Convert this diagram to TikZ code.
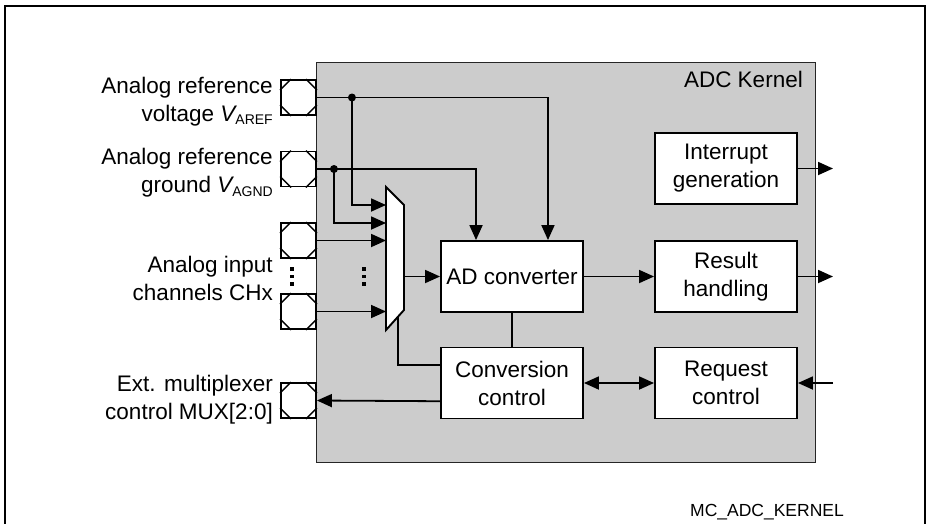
\documentclass[tikz,border=0pt]{standalone}
\usepackage{fontspec}
\setmainfont{Liberation Sans}
\usetikzlibrary{arrows.meta,calc}
\begin{document}
\begin{tikzpicture}[x=1pt,y=-1pt,
  >={Triangle[length=15pt,width=13pt]},
  conn/.style={line width=1.8pt},
  blk/.style={draw, fill=white, line width=1.9pt, minimum width=142pt, minimum height=71pt,
    align=center, inner sep=0pt, font=\fontsize{22.5}{28}\selectfont},
  pad/.style={draw, fill=white, line width=1.9pt, minimum size=35pt, inner sep=0pt},
  lbl/.style={anchor=east, align=right, inner sep=0pt, font=\fontsize{22.5}{28}\selectfont},
  jdot/.style={fill=black}]
\useasboundingbox (0,0) rectangle (927,523);
\fill[white] (0,0) rectangle (927,523);
\draw[line width=2.6pt] (5,530) -- (5,6) -- (925,6) -- (925,530);

% kernel
\node[draw=black!85, line width=1.1pt, fill=black!20, minimum width=499pt, minimum height=400pt,
  anchor=north west, inner sep=0pt] (kern) at (316,62) {};
\node[anchor=base east, inner sep=0pt, font=\fontsize{22.5}{28}\selectfont] (kl) at (803,87) {ADC Kernel};

% pads
\node[pad] (p1) at (298.5,97.5) {};
\node[pad] (p2) at (298.5,169) {};
\node[pad] (p3) at (298.5,240.5) {};
\node[pad] (p4) at (298.5,311.5) {};
\node[pad] (p5) at (298.5,400.5) {};
\foreach \p in {p1,p2,p3,p4,p5} {
  \draw[line width=1.3pt]
    ($(\p.north west)+(0,11)$) -- ($(\p.north west)+(11,0)$)
    ($(\p.north east)+(-11,0)$) -- ($(\p.north east)+(0,11)$)
    ($(\p.south west)+(0,-11)$) -- ($(\p.south west)+(11,0)$)
    ($(\p.south east)+(-11,0)$) -- ($(\p.south east)+(0,-11)$);
}

% labels
\newcommand{\subsc}[1]{\raisebox{-3.5pt}{\fontsize{14}{14}\selectfont #1}}
\node[lbl] (l1) at (273,101.5) {Analog reference\\voltage {\itshape V}\subsc{AREF}};
\node[lbl] (l2) at (273,173) {Analog reference\\ground {\itshape V}\subsc{AGND}};
\node[lbl] (l3) at (273,278) {Analog input\\channels CHx};
\node[lbl] (l4) at (273,400) {Ext. multiplexer\\control MUX[2:0]};

% dots
\foreach \yy in {269,276.5,284} {
  \fill (290.3,\yy-1.7) rectangle ++(3.4,3.4);
  \fill (362.3,\yy-1.7) rectangle ++(3.4,3.4);
}

% blocks
\node[blk] (ad) at (512,276.5) {AD converter};
\node[blk] (cc) at (512,383) {Conversion\\control};
\node[blk] (ig) at (726,168.5) {Interrupt\\generation};
\node[blk] (rs) at (726,276.5) {Result\\handling};
\node[blk] (rq) at (726,383) {Request\\control};

% multiplexer
\draw[line width=1.9pt, fill=white] (386,187) -- (404,205) -- (404,310) -- (386,330) -- cycle;
\coordinate (m1) at (386,205);
\coordinate (m2) at (386,223);
\coordinate (mo) at (404,276.5);
\coordinate (mb) at (398,317);

% connectors
\path (p1.east) ++(35,0) coordinate (j1);
\path (p2.east) ++(17,0) coordinate (j2);
\draw[conn,->] (p1.east) -| ($(ad.north west)!0.75!(ad.north east)$);
\draw[conn,->] (p2.east) -| ($(ad.north west)!0.25!(ad.north east)$);
\draw[conn,->] (j1) |- (m1);
\draw[conn,->] (j2) |- (m2);
\fill[jdot] (j1) circle (4pt);
\fill[jdot] (j2) circle (4pt);
\draw[conn,->] (p3.east) -- (p3.east -| m1);
\draw[conn,->] (p4.east) -- (p4.east -| m1);
\draw[conn,->] (mo) -- (ad.west);
\draw[conn] (mb) |- ($(cc.north west)!0.25!(cc.south west)$);
\draw[conn] (ad.south) -- (cc.north);
\draw[conn,->] ($(cc.north west)!0.75!(cc.south west)$) -- (p5.east);
\draw[conn,<->] (cc.east) -- (rq.west);
\draw[conn,->] (ad.east) -- (rs.west);
\coordinate (o1) at (833,168.5);
\coordinate (o2) at (833,276.5);
\coordinate (i3) at (833,383);
\draw[conn,->] (ig.east) -- (o1);
\draw[conn,->] (rs.east) -- (o2);
\draw[conn,->] (i3) -- (rq.east);

\node[anchor=base west, inner sep=0pt, font=\fontsize{17.5}{20}\selectfont] (fig) at (690,516) {MC\_ADC\_KERNEL};
\end{tikzpicture}
\end{document}
